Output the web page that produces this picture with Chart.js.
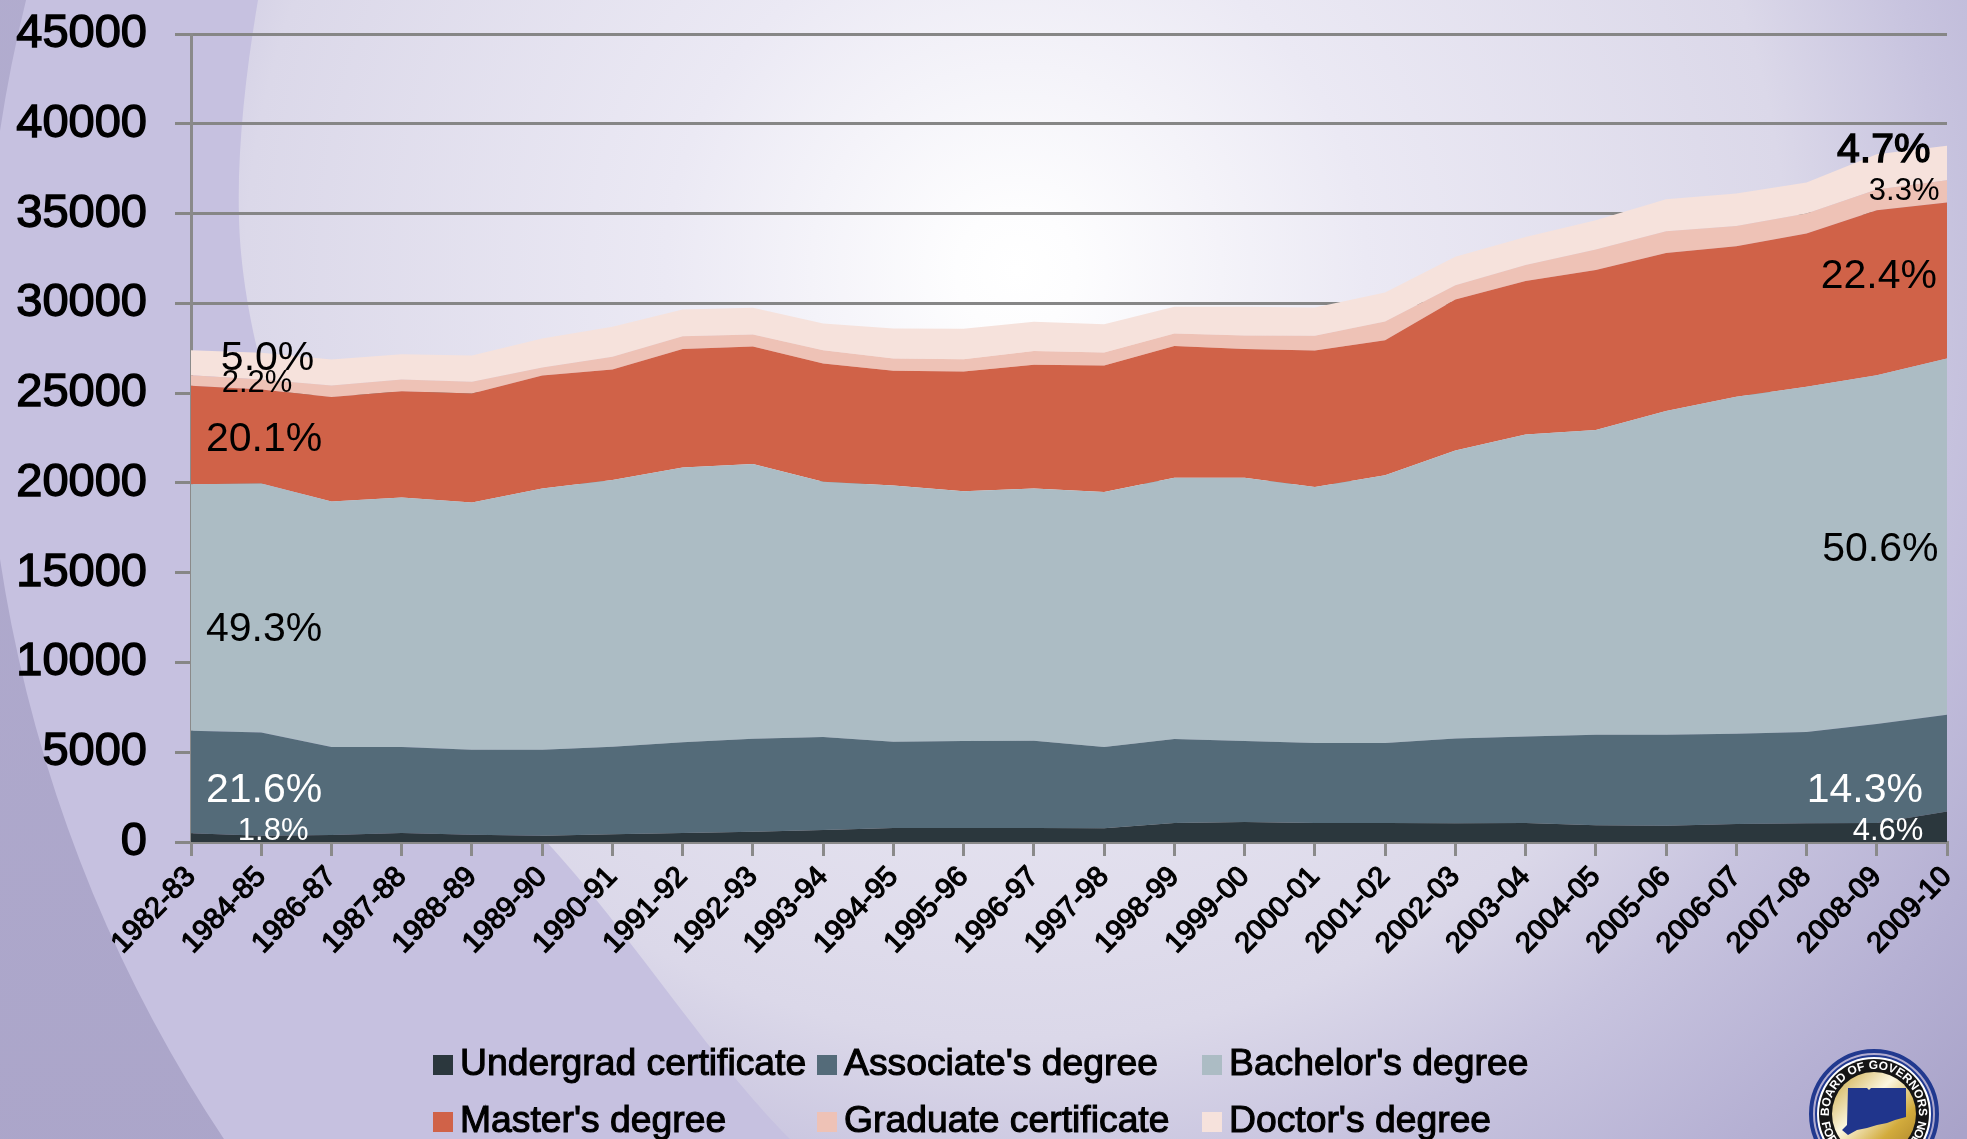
<!DOCTYPE html>
<html>
<head>
<meta charset="utf-8">
<title>Degrees conferred</title>
<script src="https://cdn.jsdelivr.net/npm/chart.js@4/dist/chart.umd.min.js"></script>
<style>
html, body { margin: 0; padding: 0; }
body {
    width: 1967px; height: 1139px; overflow: hidden; position: relative;
    background: radial-gradient(circle 1280px at 1016px 270px, #ffffff 0px, #fdfdfe 60px, #ebe9f4 350px, #dbd8e9 770px, #c8c4df 926px, #b5b0d3 1130px, #a9a3c9 1280px);
}
canvas, #swoosh { position: absolute; left: 0; top: 0; }
#seal { position: absolute; left: 1800px; top: 1040px; }
</style>
</head>
<body>
<svg id="swoosh" width="1967" height="1139" viewBox="0 0 1967 1139">
    <defs>
        <linearGradient id="outerBand" x1="0" y1="0" x2="0" y2="1">
            <stop offset="0" stop-color="#b7b2d3"/>
            <stop offset="1" stop-color="#a8a2c7"/>
        </linearGradient>
    </defs>
    <path fill="#c6c1e0" d="M258,0 C246,70 237,150 239,218 C243,400 360,680 510,806 C600,885 700,1050 790,1139 L0,1139 L0,0 Z"/>
    <path fill="url(#outerBand)" fill-rule="evenodd" d="M0,0 H1967 V1139 H0 Z M-16,345 a1432,1432 0 1,0 2864,0 a1432,1432 0 1,0 -2864,0 Z"/>
</svg>
<canvas id="degrees" width="1967" height="1139"></canvas>
<svg id="seal" width="167" height="99" viewBox="1800 1040 167 99">
    <defs>
        <linearGradient id="gold" x1="0" y1="0" x2="1" y2="1">
            <stop offset="0" stop-color="#c9a43a"/>
            <stop offset="0.4" stop-color="#fbf6df"/>
            <stop offset="0.7" stop-color="#d2ab3c"/>
            <stop offset="1" stop-color="#a9812a"/>
        </linearGradient>
        <path id="arcTop" d="M 1829 1114 A 45 45 0 0 1 1919 1114"/>
        <path id="arcBottom" d="M 1821 1114 A 53 53 0 0 0 1927 1114"/>
    </defs>
    <circle cx="1874" cy="1114" r="63" fill="none" stroke="#21398f" stroke-width="4"/>
    <circle cx="1874" cy="1114" r="58" fill="#ffffff" stroke="#21398f" stroke-width="2"/>
    <circle cx="1874" cy="1114" r="55" fill="#151515"/>
    <circle cx="1874" cy="1114" r="42" fill="url(#gold)"/>
    <polygon fill="#20358c" points="1848,1088 1867,1088 1869,1090 1871,1088 1906,1088 1906,1117 1895,1120 1887,1123 1877,1125 1867,1128 1857,1130 1848,1135 1842,1130 1847,1125"/>
    <text font-family="Liberation Sans" font-weight="700" font-size="12" fill="#ffffff"><textPath href="#arcTop" startOffset="50%" text-anchor="middle">BOARD OF GOVERNORS</textPath></text>
    <text font-family="Liberation Sans" font-weight="700" font-size="12" fill="#ffffff"><textPath href="#arcBottom" startOffset="50%" text-anchor="middle">FOR HIGHER EDUCATION</textPath></text>
</svg>
<script>
var years = ['1982-83', '1984-85', '1986-87', '1987-88', '1988-89', '1989-90', '1990-91', '1991-92', '1992-93',
    '1993-94', '1994-95', '1995-96', '1996-97', '1997-98', '1998-99', '1999-00', '2000-01', '2001-02', '2002-03',
    '2003-04', '2004-05', '2005-06', '2006-07', '2007-08', '2008-09', '2009-10']

var undergrad = [490, 350, 390, 500, 410, 350, 430, 500, 575, 670, 780, 780, 780, 760, 1060, 1110, 1060, 1060, 1040, 1060, 930, 910, 1000, 1040, 1060, 1700]
var associate = [5710, 5750, 4900, 4790, 4730, 4790, 4870, 5050, 5175, 5180, 4800, 4840, 4860, 4530, 4670, 4510, 4450, 4450, 4730, 4820, 5040, 5060, 5030, 5080, 5510, 5390]
var bachelor = [13730, 13870, 13680, 13900, 13770, 14550, 14860, 15310, 15300, 14210, 14280, 13920, 14050, 14200, 14560, 14670, 14260, 14920, 16030, 16820, 16970, 18030, 18770, 19230, 19430, 19840]
var master = [5480, 5230, 5810, 5920, 6070, 6290, 6160, 6590, 6550, 6590, 6380, 6670, 6890, 7050, 7330, 7160, 7610, 7520, 8420, 8550, 8910, 8800, 8380, 8540, 9190, 8690]
var gradCert = [590, 560, 650, 650, 650, 450, 700, 720, 670, 740, 690, 680, 760, 720, 700, 760, 810, 1040, 790, 880, 1150, 1220, 1120, 1110, 1150, 1240]
var doctor = [1390, 1490, 1440, 1410, 1470, 1610, 1670, 1490, 1480, 1490, 1670, 1690, 1630, 1580, 1490, 1600, 1580, 1610, 1580, 1570, 1630, 1780, 1820, 1730, 1960, 1910]

var seriesNames = ['Undergrad certificate', "Associate's degree", "Bachelor's degree", "Master's degree", 'Graduate certificate', "Doctor's degree"]
var seriesValues = [undergrad, associate, bachelor, master, gradCert, doctor]
var seriesColors = ['#2b373d', '#546b79', '#acbcc4', '#d06248', '#eec2b6', '#f6e2dc']

var shareText = ['5.0%', '2.2%', '20.1%', '49.3%', '21.6%', '1.8%', '4.7%', '3.3%', '22.4%', '50.6%', '14.3%', '4.6%']

// where the share labels sit, in axis units (category index, value)
var shareStyle = [
    { at: 1.09, y: 26900, size: 41, color: '#000' },
    { at: 0.94, y: 25560, size: 31, color: '#000' },
    { at: 1.04, y: 22390, size: 41, color: '#000' },
    { at: 1.04, y: 11810, size: 41, color: '#000' },
    { at: 1.04, y: 2850, size: 41, color: '#fff' },
    { at: 1.17, y: 560, size: 31, color: '#fff' },
    { at: 24.1, y: 38480, size: 41, color: '#000', heavy: true },
    { at: 24.39, y: 36250, size: 31, color: '#000' },
    { at: 24.03, y: 31470, size: 41, color: '#000' },
    { at: 24.05, y: 16270, size: 41, color: '#000' },
    { at: 23.83, y: 2850, size: 41, color: '#fff' },
    { at: 24.16, y: 560, size: 31, color: '#fff' }
]

var fontName = '"Liberation Sans", Arial, sans-serif'

var shareLabels = {
    id: 'shareLabels',
    afterDatasetsDraw: function(chart) {
        var ctx = chart.ctx
        ctx.save()
        ctx.textAlign = 'center'
        ctx.textBaseline = 'middle'
        shareText.forEach(function(text, i) {
            var s = shareStyle[i]
            var x = chart.scales.x.getPixelForValue(s.at)
            var y = chart.scales.y.getPixelForValue(s.y)
            ctx.font = s.size + 'px ' + fontName
            ctx.fillStyle = s.color
            ctx.fillText(text, x, y)
            if (s.heavy) {
                ctx.lineWidth = 1.4
                ctx.strokeStyle = s.color
                ctx.strokeText(text, x, y)
            }
        })
        ctx.restore()
    }
}

// two rows of three, the columns line up so the built in legend can't do it
var gridLegend = {
    id: 'gridLegend',
    afterDraw: function(chart) {
        var ctx = chart.ctx
        var columns = [433, 817, 1202]
        var rows = [1065, 1122]
        ctx.save()
        ctx.textAlign = 'left'
        ctx.textBaseline = 'middle'
        ctx.font = '37.3px ' + fontName
        chart.data.datasets.forEach(function(set, i) {
            var x = columns[i % 3]
            var y = rows[Math.floor(i / 3)]
            ctx.fillStyle = set.backgroundColor
            ctx.fillRect(x, y - 10, 20, 20)
            ctx.fillStyle = '#000'
            ctx.lineWidth = 1.1
            ctx.strokeStyle = '#000'
            ctx.fillText(set.label, x + 27, y)
            ctx.strokeText(set.label, x + 27, y)
        })
        ctx.restore()
    }
}

// the big tick labels would otherwise push the plot area in
function dropLabelPadding(scale) {
    scale.paddingTop = 0
    scale.paddingBottom = 0
    scale.paddingLeft = 0
    scale.paddingRight = 0
}

var ctx = document.getElementById('degrees').getContext('2d')
var chart = new Chart(ctx, {
    type: 'line',
    data: {
        labels: years,
        datasets: seriesNames.map(function(name, i) {
            return {
                label: name,
                data: seriesValues[i],
                backgroundColor: seriesColors[i],
                borderWidth: 0,
                pointRadius: 0,
                tension: 0,
                fill: i === 0 ? 'origin' : '-1'
            }
        })
    },
    plugins: [shareLabels, gridLegend],
    options: {
        responsive: false,
        animation: false,
        layout: { padding: { left: 0, right: 20, top: 34, bottom: 0 } },
        plugins: { legend: { display: false }, title: { display: false }, tooltip: { enabled: false } },
        scales: {
            x: {
                offset: false,
                afterFit: function(scale) { scale.height = 297; dropLabelPadding(scale) },
                grid: { drawOnChartArea: false, color: '#8a8a8a', lineWidth: 3, tickLength: 14 },
                border: { color: '#8a8a8a', width: 3 },
                ticks: {
                    autoSkip: false,
                    minRotation: 46,
                    maxRotation: 46,
                    padding: 4,
                    color: '#000',
                    textStrokeColor: '#000',
                    textStrokeWidth: 1.2,
                    font: { family: fontName, size: 29 }
                }
            },
            y: {
                stacked: true,
                min: 0,
                max: 45000,
                afterFit: function(scale) { scale.width = 191; dropLabelPadding(scale) },
                grid: { color: '#868686', lineWidth: 3, tickLength: 16 },
                border: { color: '#8a8a8a', width: 3 },
                ticks: {
                    stepSize: 5000,
                    padding: 28,
                    color: '#000',
                    textStrokeColor: '#000',
                    textStrokeWidth: 1.4,
                    font: { family: fontName, size: 47 },
                    callback: function(value) { return String(value) }
                }
            }
        }
    }
})
</script>
</body>
</html>
